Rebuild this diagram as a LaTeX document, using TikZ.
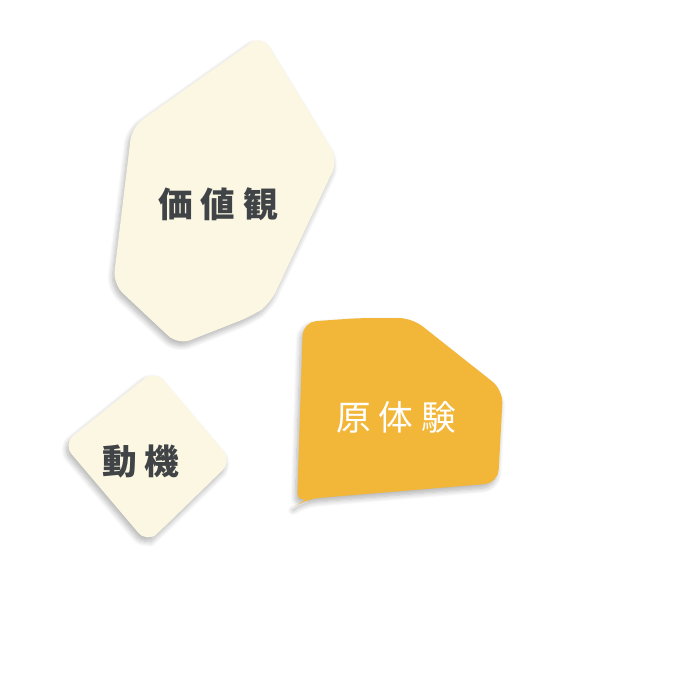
\documentclass[tikz,border=0pt]{standalone}
\usepackage{fontspec}
\newfontfamily\jpfont{Noto Sans CJK JP}
\usetikzlibrary{shadows.blur}
\definecolor{cream}{RGB}{251,247,227}
\definecolor{amber}{RGB}{242,182,56}
\definecolor{ink}{RGB}{64,68,71}
\tikzset{every picture/.style={line width=0.75pt}}
\tikzset{
  piece/.style={rounded corners=10pt, blur shadow={shadow xshift=-1.5pt, shadow yshift=-3pt, shadow blur steps=8, shadow blur radius=4pt, shadow opacity=30}},
  word/.style={inner sep=0.75pt, font=\jpfont\fontsize{26}{30}\selectfont}
}
\newcommand{\spaced}[3]{#1\kern6pt#2\kern6pt#3}

\begin{document}
\begin{tikzpicture}[x=0.75pt,y=0.75pt,yscale=-1,xscale=1]
\useasboundingbox (0,0) rectangle (684,674);
%Shape: Polygon [id:values]
\path [piece, fill=cream] (300,97) -- (338,160) -- (270,304) -- (252,316) -- (178,345) -- (113,284) -- (132,127) -- (262,35) -- cycle ;
%Shape: Diamond [id:motive]
\path [piece, fill=cream] (193,415) -- (232,461) -- (162,529) -- (147,543) -- (63,444) -- (155,370) -- cycle ;
%Shape: Polygon [id:origin]
\path [piece, fill=amber] (360,318) -- (412,318) -- (503,390) -- (498,483) -- (306,499) -- (297,505) -- (303,322) -- cycle ;

% Text Node
\node [word, text=ink] (values) at (218,204) {\bfseries\spaced{価}{値}{観}};
% Text Node
\node [word, text=ink] (motive) at (141,461) {\bfseries 動\kern6pt機};
% Text Node
\node [word, text=white] (origin) at (396,417) {\spaced{原}{体}{験}};
\end{tikzpicture}
\end{document}
